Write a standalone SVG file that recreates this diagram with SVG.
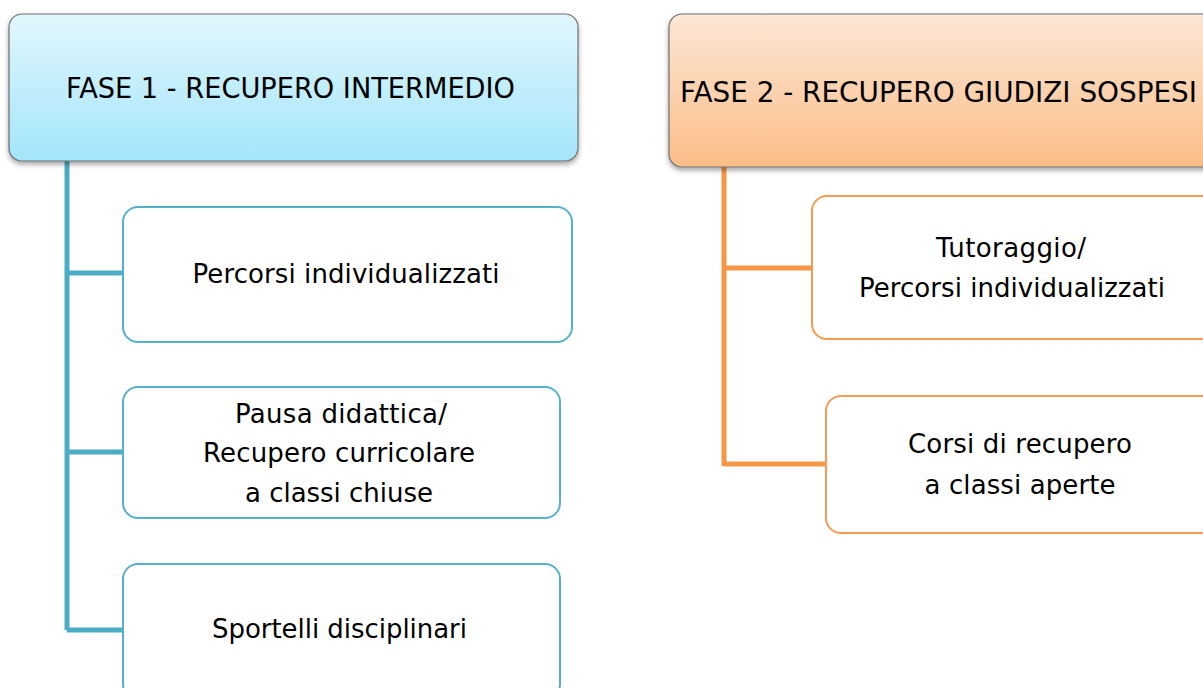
<svg xmlns="http://www.w3.org/2000/svg" width="1203" height="688" viewBox="0 0 1203 688">
<style>
text{font-family:"DejaVu Sans","Verdana",sans-serif;font-size:26px;fill:#000;text-anchor:middle}
.h{font-size:28px}
.head{stroke:#6f6f6f;stroke-width:1.2}
.sb{fill:#fff;stroke:#56b0cb;stroke-width:2}
.so{fill:#fff;stroke:#f79a52;stroke-width:2}
.cb{fill:none;stroke:#4bacc6;stroke-width:5}
.co{fill:none;stroke:#f79646;stroke-width:5}
</style>
<defs>
<linearGradient id="gb" x1="0" y1="0" x2="0" y2="1">
<stop offset="0" stop-color="#e2f7fd"/>
<stop offset="1" stop-color="#a3e5fb"/>
</linearGradient>
<linearGradient id="go" x1="0" y1="0" x2="0" y2="1">
<stop offset="0" stop-color="#fde7d6"/>
<stop offset="1" stop-color="#fbbd88"/>
</linearGradient>
<filter id="sh" x="-5%" y="-10%" width="110%" height="130%">
<feDropShadow dx="0" dy="3" stdDeviation="2.5" flood-color="#000" flood-opacity="0.35"/>
</filter>
</defs>
<rect width="1203" height="688" fill="#fff"/>
<g id="connectors">
<path class="cb" d="M67 161V630M67 273H123M67 452H123M67 630H123"/>
<path class="co" d="M724 167V466M724 268H812M724 464H826"/>
</g>
<g id="fase1">
<rect class="head" x="9" y="14" width="569" height="147" rx="13" fill="url(#gb)" filter="url(#sh)"/>
<text class="h" x="290.5" y="98" textLength="449" lengthAdjust="spacingAndGlyphs">FASE 1 - RECUPERO INTERMEDIO</text>
</g>
<g id="percorsi1">
<rect class="sb" x="123" y="207" width="449" height="135" rx="15"/>
<text x="346" y="283" textLength="307">Percorsi individualizzati</text>
</g>
<g id="pausa">
<rect class="sb" x="123" y="387" width="437" height="131" rx="15"/>
<text x="341" y="423" textLength="212">Pausa didattica/</text>
<text x="339" y="462" textLength="272">Recupero curricolare</text>
<text x="339" y="502" textLength="188">a classi chiuse</text>
</g>
<g id="sportelli">
<rect class="sb" x="123" y="564" width="437" height="135" rx="15"/>
<text x="339.5" y="638" textLength="255">Sportelli disciplinari</text>
</g>
<g id="fase2">
<rect class="head" x="669" y="14" width="560" height="153" rx="13" fill="url(#go)" filter="url(#sh)"/>
<text class="h" x="938.5" y="102" textLength="517" lengthAdjust="spacingAndGlyphs">FASE 2 - RECUPERO GIUDIZI SOSPESI</text>
</g>
<g id="tutoraggio">
<rect class="so" x="812" y="196" width="420" height="143" rx="15"/>
<text x="1011" y="257" textLength="150">Tutoraggio/</text>
<text x="1012" y="297" textLength="306">Percorsi individualizzati</text>
</g>
<g id="corsi">
<rect class="so" x="826" y="396" width="406" height="137" rx="15"/>
<text x="1020" y="453" textLength="224">Corsi di recupero</text>
<text x="1020" y="494" textLength="191">a classi aperte</text>
</g>
</svg>
